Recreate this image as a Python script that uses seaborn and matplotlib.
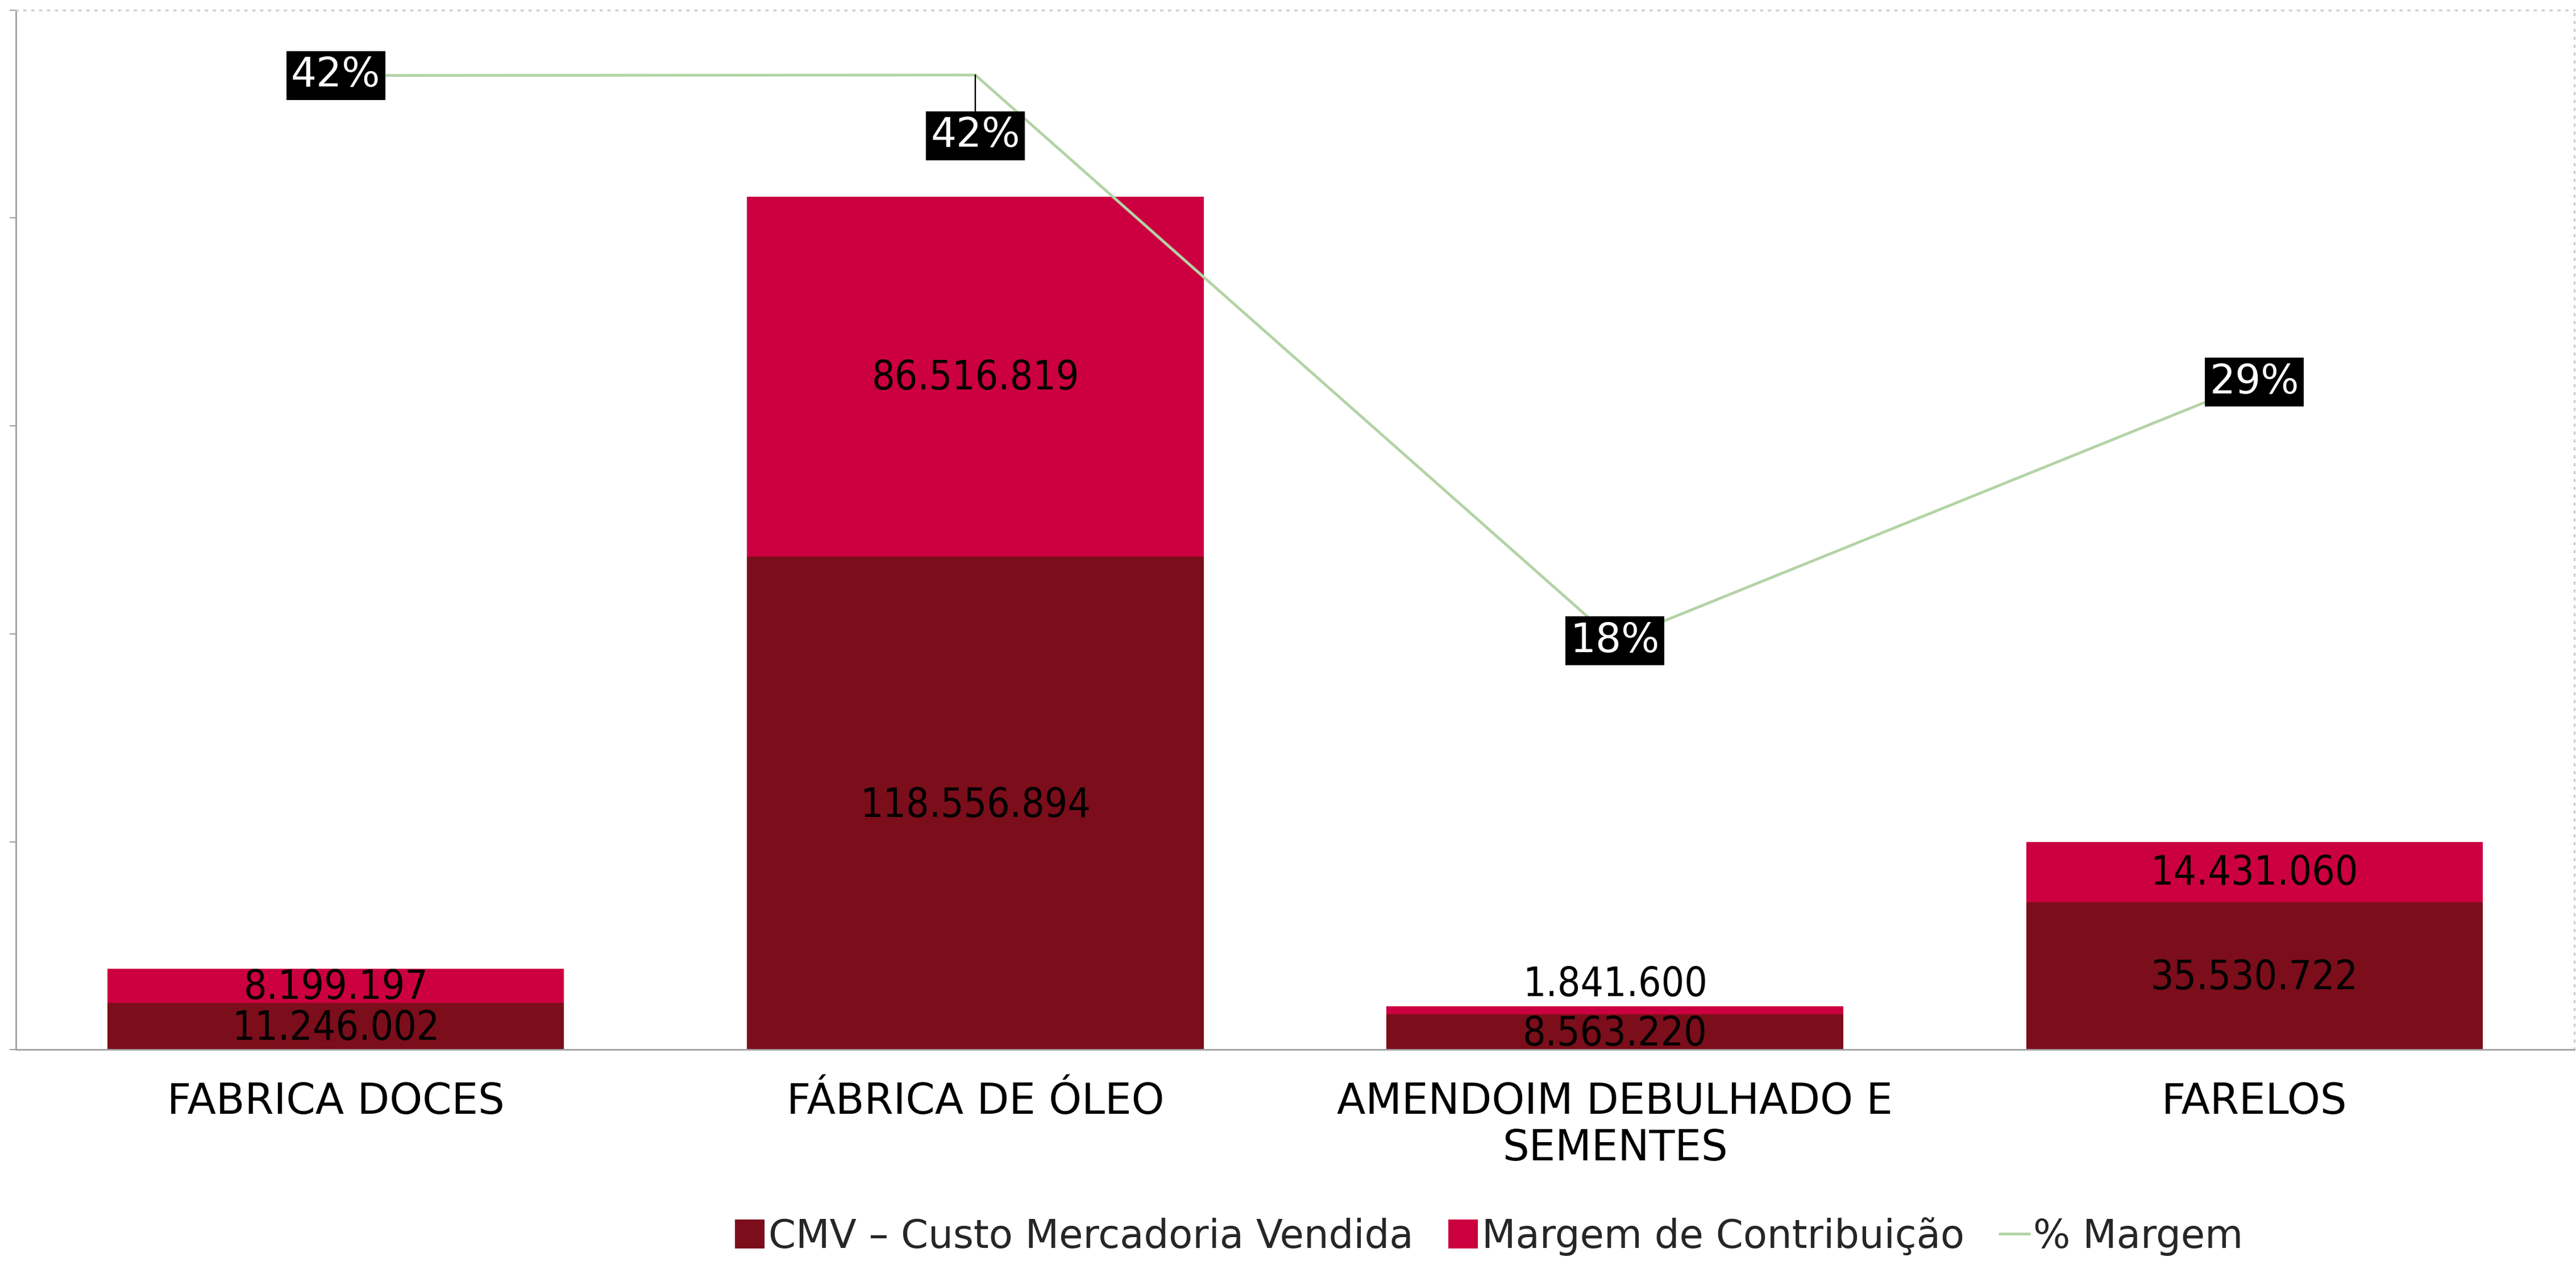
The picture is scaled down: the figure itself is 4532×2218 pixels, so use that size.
import matplotlib
matplotlib.use("Agg")
import matplotlib.pyplot as plt
import seaborn as sns
import numpy as np
import pandas as pd
from matplotlib.patches import Patch
from matplotlib.lines import Line2D

# ---- data ----
categories = ["FABRICA DOCES", "FÁBRICA DE ÓLEO", "AMENDOIM DEBULHADO E\nSEMENTES", "FARELOS"]
cmv = [11246002, 118556894, 8563220, 35530722]
margem = [8199197, 86516819, 1841600, 14431060]
pct_margem = [0.4217, 0.4219, 0.1770, 0.2889]
legend_labels = ["CMV – Custo Mercadoria Vendida", "Margem de Contribuição", "% Margem"]

CMV_COLOR = "#7B0E1A"
MARGEM_COLOR = "#CC0040"
LINE_COLOR = "#B3D3A5"

sns.set_style("white")
plt.rcParams["font.family"] = ["DejaVu Sans"]

def fmt_br(v):
    return f"{v:,.0f}".replace(",", ".")

fig = plt.figure(figsize=(45.32, 22.18), dpi=100)
ax = fig.add_axes([0.0062, 0.1675, 0.9931, 0.8245])

df = pd.DataFrame({"cat": categories,
                   "total": np.array(cmv) + np.array(margem),
                   "cmv": cmv})

sns.barplot(data=df, x="cat", y="total", order=categories, color=MARGEM_COLOR,
            saturation=1, width=0.714, linewidth=0, ax=ax)
sns.barplot(data=df, x="cat", y="cmv", order=categories, color=CMV_COLOR,
            saturation=1, width=0.714, linewidth=0, ax=ax)

ax.set_xlim(-0.5, 3.5)
ax.set_ylim(0, 250e6)
ax.set_yticks(np.arange(0, 250e6 + 1, 50e6))
ax.set_xlabel("")
ax.set_ylabel("")
ax.tick_params(axis="y", direction="out", length=8, width=1.5, color="#A0A0A0",
               labelleft=False, left=True)
ax.tick_params(axis="x", length=0, pad=40, labelsize=53, labelcolor="black")
for lab in ax.get_xticklabels():
    lab.set_linespacing(1.15)

for side in ["left", "bottom"]:
    ax.spines[side].set_color("#A0A0A0")
    ax.spines[side].set_linewidth(2)
for side in ["top", "right"]:
    ax.spines[side].set_color("#C8C8C8")
    ax.spines[side].set_linewidth(2)
    ax.spines[side].set_linestyle((0, (1, 4)))
ax.grid(False)

# bar value labels
lab_kw = dict(ha="center", va="center", fontsize=51, color="black", fontstretch="condensed")
for i in range(len(categories)):
    c, m = cmv[i], margem[i]
    ax.annotate(fmt_br(c), (i, c / 2), xytext=(0, -3), textcoords="offset points", **lab_kw)
    if i == 2:
        ax.annotate(fmt_br(m), (i, c + m), xytext=(0, 27), textcoords="offset points", **lab_kw)
    else:
        ax.annotate(fmt_br(m), (i, c + m / 2), xytext=(0, -2), textcoords="offset points", **lab_kw)

# line on secondary axis
ax2 = ax.twinx()
sns.lineplot(x=np.arange(len(categories)), y=pct_margem, ax=ax2, color=LINE_COLOR,
             linewidth=3.5, sort=False)
ax2.set_ylim(0, 0.45)
ax2.set_yticks([])
for s in ax2.spines.values():
    s.set_visible(False)
ax2.set_xlim(-0.5, 3.5)

box = dict(boxstyle="square,pad=0.12", fc="black", ec="none")
pct_kw = dict(ha="center", va="center", fontsize=51, color="white", bbox=box)
for i, p in enumerate(pct_margem):
    txt = f"{round(p * 100):d}%"
    if i == 1:
        ax2.annotate(txt, (i, p), xytext=(0, -77), textcoords="offset points",
                     arrowprops=dict(arrowstyle="-", color="black", lw=1.8,
                                     shrinkA=0, shrinkB=0), **pct_kw)
    else:
        ax2.text(i, p, txt, **pct_kw)

handles = [Patch(facecolor=CMV_COLOR, edgecolor="none"),
           Patch(facecolor=MARGEM_COLOR, edgecolor="none"),
           Line2D([0], [0], color=LINE_COLOR, lw=3.5)]
fig.legend(handles, legend_labels, loc="center", bbox_to_anchor=(0.578, 0.0196),
           ncol=3, frameon=False, fontsize=49.6, handlelength=0.75, handleheight=0.75,
           handletextpad=0.1, columnspacing=0.9, borderaxespad=0)

fig.savefig("out.png", dpi=100, facecolor="white")
